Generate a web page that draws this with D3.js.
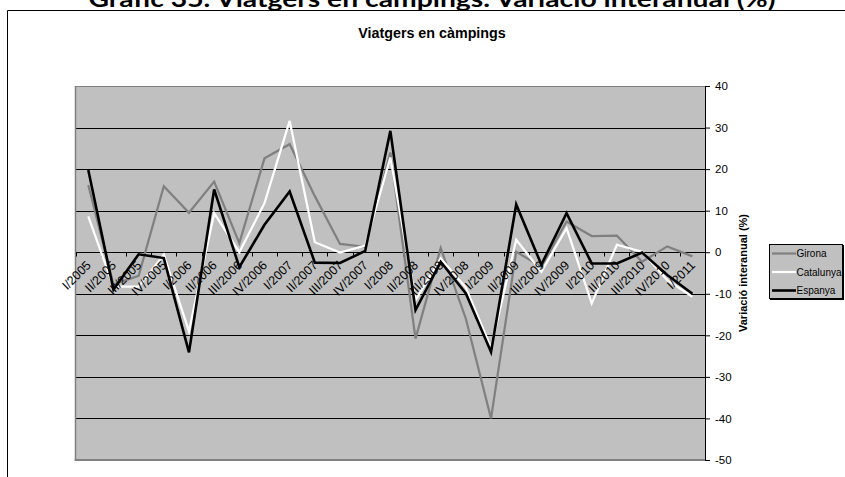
<!DOCTYPE html>
<html>
<head>
<meta charset="utf-8">
<script src="https://cdn.jsdelivr.net/npm/d3@7"></script>
<style>
  html, body { margin: 0; padding: 0; background: #fff; }
  svg { display: block; }
  text { font-family: "Liberation Sans", Arial, sans-serif; }
</style>
</head>
<body>
<svg id="chart" width="845" height="477"></svg>
<script>
const categories = ["I/2005","II/2005","III/2005","IV/2005","I/2006","II/2006","III/2006","IV/2006",
  "I/2007","II/2007","III/2007","IV/2007","I/2008","II/2008","III/2008","IV/2008",
  "I/2009","II/2009","III/2009","IV/2009","I/2010","II/2010","III/2010","IV/2010","I/2011"];
const girona    = [16.2, -7.7, -5.7, 15.9, 9.5, 17.0, 2.2, 22.6, 26.0, 13.5, 2.0, 1.3, 24.0, -20.8, 1.0, -16.0, -40.0, 0.1, -3.5, 7.4, 3.9, 4.0, -2.3, 1.4, -1.0];
const catalunya = [8.6, -8.3, -8.3, -0.6, -19.0, 9.4, 0.0, 11.8, 31.6, 2.4, -0.1, 1.6, 22.8, -11.5, -1.5, -8.5, -23.0, 3.0, -4.7, 5.8, -12.3, 1.8, 0.1, -6.7, -10.7];
const espanya   = [19.8, -9.0, -0.5, -1.4, -24.1, 15.1, -3.6, 6.6, 14.6, -2.5, -2.6, 0.3, 29.2, -13.9, -2.3, -9.9, -24.0, 11.5, -3.0, 9.4, -2.7, -2.7, -0.1, -5.5, -10.0];
const seriesNames = ["Girona", "Catalunya", "Espanya"];
const yTicks = [40, 30, 20, 10, 0, -10, -20, -30, -40, -50];
const mainTitle = "Gràfic 35. Viatgers en càmpings. Variació interanual (%)";
const chartTitle = "Viatgers en càmpings";
const yTitle = "Variació interanual (%)";

const series = [
  {name: seriesNames[0], values: girona, color: "#808080", width: 2.25},
  {name: seriesNames[1], values: catalunya, color: "#ffffff", width: 2.25},
  {name: seriesNames[2], values: espanya, color: "#000000", width: 2.6}
];

const FONT = "'Liberation Sans', Arial, sans-serif";
const svg = d3.select("#chart");
const px0 = 75.7, px1 = 705, py0 = 86, py1 = 460;

const x = d3.scaleBand().domain(categories).range([px0, px1]).paddingInner(0).paddingOuter(0);
const y = d3.scaleLinear().domain([-50, 40]).range([py1, py0]);
const cx = c => x(c) + x.bandwidth() / 2;

// main title (cut by the top edge, as in the reference)
svg.append("text")
  .attr("x", 432).attr("y", 7)
  .attr("text-anchor", "middle")
  .attr("textLength", 687).attr("lengthAdjust", "spacingAndGlyphs")
  .style("font-family", "Lato, 'Open Sans', sans-serif")
  .style("font-weight", "700").style("font-size", "22px")
  .text(mainTitle);

// outer chart border
svg.append("path")
  .attr("d", "M7.5,477 V10.5 H845")
  .attr("fill", "none").attr("stroke", "#000").attr("stroke-width", 1);

// chart title
svg.append("text")
  .attr("x", 432).attr("y", 38)
  .attr("text-anchor", "middle")
  .style("font-family", FONT)
  .style("font-weight", "bold").style("font-size", "14.3px")
  .text(chartTitle);

// plot area
svg.append("rect")
  .attr("x", px0).attr("y", py0).attr("width", px1 - px0).attr("height", py1 - py0)
  .attr("fill", "#c0c0c0");

// gridlines
svg.append("g").selectAll("line").data(yTicks.filter(t => t > -50 && t < 40)).join("line")
  .attr("x1", px0).attr("x2", px1)
  .attr("y1", d => Math.round(y(d)) + 0.5).attr("y2", d => Math.round(y(d)) + 0.5)
  .attr("stroke", "#000").attr("stroke-width", 1);

// plot border (gray) top / left / bottom
svg.append("line").attr("x1", px0).attr("x2", px1).attr("y1", py0 + 0.5).attr("y2", py0 + 0.5)
  .attr("stroke", "#808080").attr("stroke-width", 1);
svg.append("line").attr("x1", Math.round(px0) - 0.5).attr("x2", Math.round(px0) - 0.5).attr("y1", py0).attr("y2", py1 + 1)
  .attr("stroke", "#808080").attr("stroke-width", 1.5);
svg.append("line").attr("x1", px0 - 1).attr("x2", px1).attr("y1", py1).attr("y2", py1)
  .attr("stroke", "#808080").attr("stroke-width", 2);

// category axis ticks at 0
const y0 = Math.round(y(0)) + 0.5;
svg.append("g").selectAll("line").data(d3.range(categories.length + 1)).join("line")
  .attr("x1", i => Math.round(px0 + i * x.step()) + 0.5)
  .attr("x2", i => Math.round(px0 + i * x.step()) + 0.5)
  .attr("y1", y0).attr("y2", y0 + 4)
  .attr("stroke", "#000").attr("stroke-width", 1);

// series lines
const line = d3.line().x((d, i) => cx(categories[i])).y(d => y(d));
svg.append("g").selectAll("path").data(series).join("path")
  .attr("d", s => line(s.values))
  .attr("fill", "none")
  .attr("stroke", s => s.color)
  .attr("stroke-width", s => s.width)
  .attr("stroke-linejoin", "miter");

// category labels
svg.append("g").selectAll("text").data(categories).join("text")
  .attr("transform", c => `translate(${cx(c) + 3.5},${266}) rotate(-45)`)
  .attr("text-anchor", "end")
  .style("font-family", FONT)
  .style("font-size", "12.5px")
  .attr("fill", "#000")
  .text(c => c);

// right value axis
const yAxis = d3.axisRight(y).tickValues(yTicks).tickSize(5).tickSizeOuter(0).tickPadding(5)
  .tickFormat(d => String(d));
const ga = svg.append("g").attr("transform", `translate(${px1},0)`).call(yAxis);
ga.select(".domain").attr("stroke", "#000");
ga.selectAll(".tick line").attr("stroke", "#000");
ga.selectAll(".tick text")
  .style("font-family", FONT)
  .style("font-size", "11.5px").attr("fill", "#000");

// y axis title
svg.append("text")
  .attr("transform", `translate(747,${(py0 + py1) / 2}) rotate(-90)`)
  .attr("text-anchor", "middle")
  .style("font-family", FONT)
  .style("font-weight", "bold").style("font-size", "11px")
  .text(yTitle);

// legend
const lg = svg.append("g").attr("transform", "translate(769,244)");
lg.append("rect").attr("x", 1).attr("y", 1).attr("width", 74).attr("height", 55).attr("fill", "#000");
lg.append("rect").attr("x", 0.5).attr("y", 0.5).attr("width", 73).attr("height", 54)
  .attr("fill", "#c0c0c0").attr("stroke", "#000").attr("stroke-width", 1);
const items = lg.selectAll("g.item").data(series).join("g").attr("class", "item")
  .attr("transform", (d, i) => `translate(0,${9.5 + i * 18.5})`);
items.append("line").attr("x1", 3).attr("x2", 27).attr("y1", 0).attr("y2", 0)
  .attr("stroke", d => d.color).attr("stroke-width", d => d.width);
items.append("text").attr("x", 27.5).attr("y", 0).attr("dy", "0.35em")
  .style("font-family", FONT)
  .style("font-size", "10px").text(d => d.name);
</script>
</body>
</html>
